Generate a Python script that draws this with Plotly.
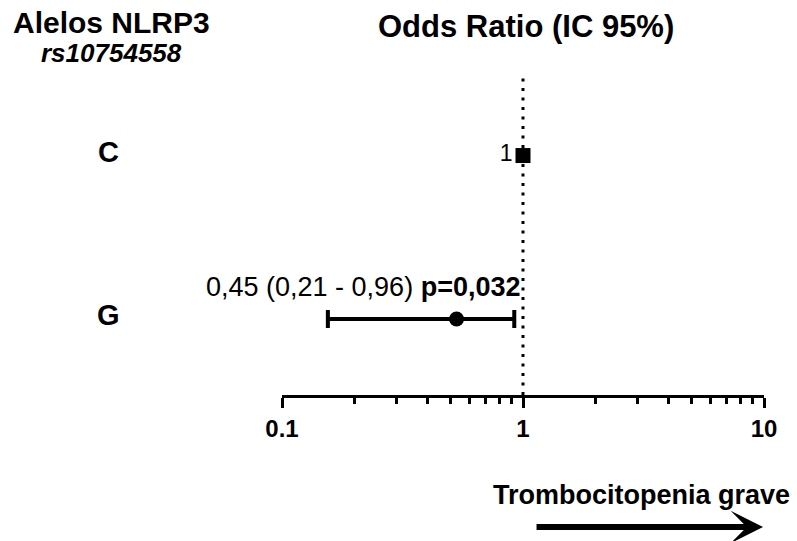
import plotly.graph_objects as go

# ---- data ----
alleles = ["C", "G"]
row_pos = [2, 1]
or_values = [1.0, 0.53]
ci_low = [None, 0.155]
ci_high = [None, 0.92]
or_labels = ["1", "0,45 (0,21 - 0,96) <b>p=0,032</b>"]
major_ticks = [0.1, 1, 10]
major_tick_labels = ["<b>0.1</b>", "<b>1</b>", "<b>10</b>"]
minor_ticks = [0.2, 0.3, 0.4, 0.5, 0.6, 0.7, 0.8, 0.9, 2, 3, 4, 5, 6, 7, 8, 9]
ref_value = 1

FONT = "Liberation Sans, Arial, sans-serif"

fig = go.Figure()

# reference allele C (square, no CI)
fig.add_trace(go.Scatter(
    x=[or_values[0]], y=[row_pos[0]], mode="markers+text",
    marker=dict(symbol="square", size=15, color="black"),
    text=[or_labels[0]], textposition="middle left",
    textfont=dict(family=FONT, size=23, color="black"),
    showlegend=False, hoverinfo="skip"))

# allele G with CI
fig.add_trace(go.Scatter(
    x=[or_values[1]], y=[row_pos[1]], mode="markers",
    marker=dict(symbol="circle", size=15, color="black"),
    error_x=dict(type="data", symmetric=False,
                 array=[ci_high[1] - or_values[1]],
                 arrayminus=[or_values[1] - ci_low[1]],
                 thickness=4, width=9, color="black"),
    showlegend=False, hoverinfo="skip"))

# vertical dotted reference line
fig.add_shape(type="line", xref="x", yref="paper",
              x0=ref_value, x1=ref_value, y0=0, y1=1,
              line=dict(color="black", width=3, dash="3px,6.5px"))

ann = []
# row labels
for name, y in zip(alleles, row_pos):
    ann.append(dict(text=f"<b>{name}</b>", xref="paper", yref="y", x=-0.359, y=y,
                    yshift=4, showarrow=False, xanchor="center", yanchor="middle",
                    font=dict(family=FONT, size=29, color="black")))
# OR text for G
ann.append(dict(text=or_labels[1], xref="x", yref="y", x=0, y=row_pos[1],
                xanchor="right", yanchor="middle", xshift=-1, yshift=32,
                showarrow=False, font=dict(family=FONT, size=27, color="black")))
# headers
ann.append(dict(text="<b>Alelos NLRP3</b>", xref="paper", yref="paper", x=-0.353, y=1.158,
                xanchor="center", yanchor="middle", showarrow=False,
                font=dict(family=FONT, size=30, color="black")))
ann.append(dict(text="<b><i>rs10754558</i></b>", xref="paper", yref="paper", x=-0.353, y=1.062,
                xanchor="center", yanchor="middle", showarrow=False,
                font=dict(family=FONT, size=26, color="black")))
ann.append(dict(text="<b>Odds Ratio (IC 95%)</b>", xref="paper", yref="paper", x=0.506, y=1.143,
                xanchor="center", yanchor="middle", showarrow=False,
                font=dict(family=FONT, size=31, color="black")))
ann.append(dict(text="<b>Trombocitopenia grave</b>", xref="paper", yref="paper", x=0.745, y=-0.3106,
                xanchor="center", yanchor="middle", showarrow=False,
                font=dict(family=FONT, size=27, color="black")))
# arrow
ann.append(dict(text="", xref="paper", yref="paper", x=0.998, y=-0.41,
                ax=-228, ay=0, showarrow=True, arrowhead=3, arrowsize=0.9,
                arrowwidth=6, arrowcolor="black"))

fig.update_layout(
    width=797, height=541,
    margin=dict(l=282, r=33, t=73, b=146),
    paper_bgcolor="white", plot_bgcolor="white",
    annotations=ann,
    hovermode=False,
    xaxis=dict(type="log", range=[-1, 1], showgrid=False, zeroline=False,
               showline=True, linecolor="black", linewidth=3,
               tickmode="array", tickvals=major_ticks, ticktext=major_tick_labels,
               ticks="outside", ticklen=10, tickwidth=3, tickcolor="black",
               tickfont=dict(family=FONT, size=24, color="black"),
               minor=dict(tickmode="array", tickvals=minor_ticks, ticks="outside",
                          ticklen=6, tickwidth=3, tickcolor="black", showgrid=False)),
    yaxis=dict(range=[0.535, 2.505], visible=False, showgrid=False, zeroline=False),
)

fig.write_html("out.html", config={"displayModeBar": False, "staticPlot": True},
               post_script="document.body.style.margin='0px';")
